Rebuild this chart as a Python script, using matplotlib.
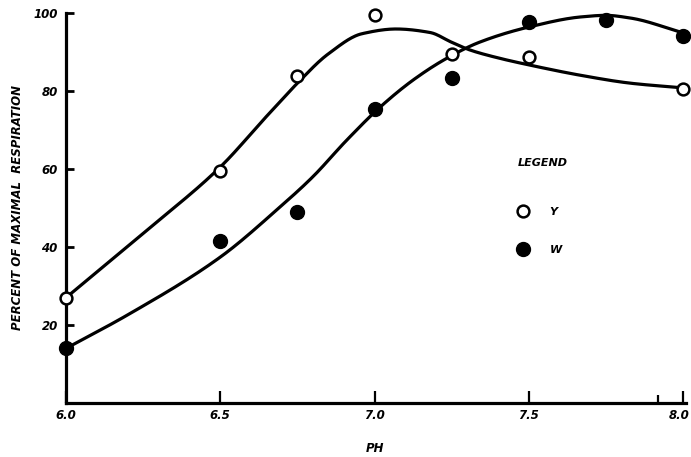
import numpy as np
import matplotlib
matplotlib.use("Agg")
import matplotlib.pyplot as plt
from matplotlib.transforms import ScaledTranslation

# measured points
ph = [6.0, 6.5, 6.75, 7.0, 7.25, 7.5, 7.75, 8.0]
y_ph = [6.0, 6.5, 6.75, 7.0, 7.25, 7.5, 8.0]
y_resp = [27, 59.5, 83.8, 99.5, 89.5, 88.7, 80.5]
w_ph = ph
w_resp = [14.2, 41.5, 49, 75.5, 83.3, 97.8, 98.3, 94.1]

y_curve_ph = [6.0, 6.25, 6.5, 6.65, 6.75, 6.85, 6.96, 7.07, 7.18, 7.25,
              7.31, 7.4, 7.5, 7.67, 7.83, 8.0]
y_curve = [27, 43.5, 60.5, 73.5, 82, 89.5, 94.7, 95.9, 95, 92.5,
           90.5, 88.5, 86.7, 84, 82, 80.8]
w_curve_ph = [6.0, 6.2, 6.5, 6.69, 6.8, 6.91, 7.02, 7.125, 7.23, 7.34,
              7.5, 7.67, 7.75, 7.83, 8.0]
w_curve = [14, 22.6, 37.4, 50, 58, 67.4, 76, 82.8, 88.2, 92.5,
           96.4, 99, 99.4, 98.7, 94.9]

xticks = [6.0, 6.5, 7.0, 7.5, 8.0]
xticklabels = ["6.0", "6.5", "7.0", "7.5", "8.0"]
yticks = [20, 40, 60, 80, 100]


def pchip(xk, yk, xs):
    # monotone cubic through the read points, just to draw them smoothly
    xk = np.asarray(xk, float)
    yk = np.asarray(yk, float)
    h = np.diff(xk)
    d = np.diff(yk) / h
    m = np.zeros_like(yk)
    for k in range(1, len(xk) - 1):
        if d[k - 1] * d[k] > 0:
            w1 = 2 * h[k] + h[k - 1]
            w2 = h[k] + 2 * h[k - 1]
            m[k] = (w1 + w2) / (w1 / d[k - 1] + w2 / d[k])
    m[0] = d[0]
    m[-1] = d[-1]
    i = np.clip(np.searchsorted(xk, xs) - 1, 0, len(xk) - 2)
    t = (xs - xk[i]) / h[i]
    h00 = 2 * t ** 3 - 3 * t ** 2 + 1
    h10 = t ** 3 - 2 * t ** 2 + t
    h01 = -2 * t ** 3 + 3 * t ** 2
    h11 = t ** 3 - t ** 2
    return h00 * yk[i] + h10 * h[i] * m[i] + h01 * yk[i + 1] + h11 * h[i] * m[i + 1]


font = dict(family="DejaVu Sans", weight="bold", style="italic")

fig = plt.figure(figsize=(6.91, 4.57), dpi=100)
ax = fig.add_axes([66 / 691, 54 / 457, 617 / 691, 390 / 457])

xs = np.linspace(6.0, 8.0, 500)
ax.plot(xs, pchip(y_curve_ph, y_curve, xs), color="black", lw=2.3, clip_on=False)
ax.plot(xs, pchip(w_curve_ph, w_curve, xs), color="black", lw=2.3, clip_on=False)

ax.plot(y_ph, y_resp, "o", ms=8.5, mfc="white", mec="black", mew=1.8,
        clip_on=False, zorder=5, label="Y")
ax.plot(w_ph, w_resp, "o", ms=10, mfc="black", mec="black",
        clip_on=False, zorder=5, label="W")

ax.set_xlim(6.0, 8.0)
ax.set_ylim(0, 100)
ax.spines["top"].set_visible(False)
ax.spines["right"].set_visible(False)
ax.spines["left"].set_linewidth(2.3)
ax.spines["bottom"].set_linewidth(2.3)
ax.spines["bottom"].set_bounds(6.0, 8.01)

ax.set_xticks(xticks)
ax.set_xticklabels(xticklabels, **font, fontsize=8.5)
ax.set_xticks([7.92], minor=True)
ax.set_yticks(yticks)
ax.set_yticklabels([str(v) for v in yticks], **font, fontsize=8.5)
ax.tick_params(axis="x", which="major", direction="in", length=9, width=1.6, pad=4)
ax.tick_params(axis="x", which="minor", direction="in", length=6, width=1.6)
ax.tick_params(axis="y", direction="in", length=6, width=2, pad=6)

# last label sits at the very edge of the figure, nudge it in a little
last = ax.get_xticklabels()[-1]
last.set_transform(last.get_transform() + ScaledTranslation(-3 / 72, 0, fig.dpi_scale_trans))

ax.set_xlabel("PH", **font, fontsize=8.5, labelpad=15)
ax.set_ylabel("PERCENT OF MAXIMAL  RESPIRATION", **font, fontsize=8.5, labelpad=7)

leg = ax.legend(loc="upper left", bbox_to_anchor=(512 / 691, 1 - 152 / 457),
                bbox_transform=fig.transFigure, frameon=False,
                title="LEGEND\n", alignment="left", handlelength=1,
                handletextpad=1.9, labelspacing=2.5, borderpad=0,
                prop=dict(family="DejaVu Sans", weight="bold", style="italic", size=8))
leg.get_title().set_fontproperties(dict(family="DejaVu Sans", weight="bold",
                                        style="italic", size=8))

fig.savefig("out.png", dpi=100)
